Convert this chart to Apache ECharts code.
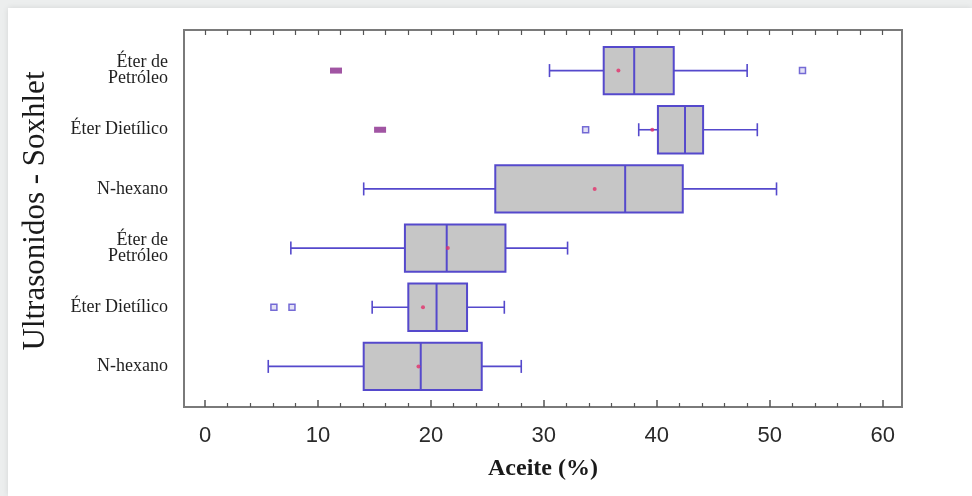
<!DOCTYPE html>
<html>
<head>
<meta charset="utf-8">
<script src="https://cdn.jsdelivr.net/npm/echarts@6/dist/echarts.min.js"></script>
<style>
  html, body { margin: 0; padding: 0; width: 972px; height: 496px; background: #eceeee; overflow: hidden; }
  #card { position: absolute; left: 8px; top: 8px; width: 964px; height: 488px; background: #ffffff; box-shadow: 0 0 6px rgba(0,0,0,0.10); }
  #chart { position: absolute; left: 0; top: 0; width: 972px; height: 496px; }
</style>
</head>
<body>
<div id="card"></div>
<div id="chart"></div>
<script>
// Categories, top to bottom
var categories = ['Éter de\nPetróleo', 'Éter Dietílico', 'N-hexano', 'Éter de\nPetróleo', 'Éter Dietílico', 'N-hexano'];
var categoryIds = ['0', '1', '2', '3', '4', '5'];

// Box statistics (Aceite %)
var whiskerLow  = [30.5, 38.4, 14.05, 7.6, 14.8, 5.6];
var q1          = [35.3, 40.1, 25.7, 17.7, 18.0, 14.05];
var median      = [38.0, 42.5, 37.2, 21.4, 20.5, 19.1];
var q3          = [41.5, 44.1, 42.3, 26.6, 23.2, 24.5];
var whiskerHigh = [48.0, 48.9, 50.6, 32.1, 26.5, 28.0];
var means       = [36.6, 39.6, 34.5, 21.5, 19.3, 18.9];

// Outliers: [value, row]
var outliers    = [[52.9, 0], [33.7, 1], [6.1, 4], [7.7, 4]];
var farOutliers = [[11.6, 0], [15.5, 1]];

// Axis ticks
var majorTicks = [0, 10, 20, 30, 40, 50, 60];
var minorTicks = [2, 4, 6, 8, 12, 14, 16, 18, 22, 24, 26, 28, 32, 34, 36, 38, 42, 44, 46, 48, 52, 54, 56, 58];
var topTicks = [0, 2, 4, 6, 8, 10, 12, 14, 16, 18, 20, 22, 24, 26, 28, 30, 32, 34, 36, 38, 40, 42, 44, 46, 48, 50, 52, 54, 56, 58, 60];

var X_MIN = -1.86, X_MAX = 61.71;
var BLUE = '#5549cc';
var FRAME = '#7a7a7a';

var boxData = categoryIds.map(function (id, i) {
  return [i, whiskerLow[i], q1[i], median[i], q3[i], whiskerHigh[i]];
});

var chart = echarts.init(document.getElementById('chart'), null, { renderer: 'canvas' });

chart.setOption({
  backgroundColor: 'transparent',
  animation: false,
  grid: [
    { left: 184, right: 70, top: 30, bottom: 89, show: true, borderColor: FRAME, borderWidth: 2, backgroundColor: 'transparent' },
    { left: 184, right: 70, top: 41, bottom: 100 }
  ],
  graphic: [{
    type: 'text',
    rotation: Math.PI / 2,
    x: 36, y: 211,
    style: {
      text: 'Ultrasonidos - Soxhlet',
      font: '31px "Liberation Serif"',
      fill: '#1a1a1a',
      align: 'center',
      verticalAlign: 'middle'
    }
  }],
  xAxis: [
    {
      gridIndex: 0, type: 'value', min: X_MIN, max: X_MAX, position: 'bottom',
      axisLine: { show: true, lineStyle: { color: FRAME, width: 2 } },
      axisTick: { show: true, inside: true, length: 7, customValues: majorTicks, lineStyle: { color: '#555', width: 1.5 } },
      axisLabel: { show: true, customValues: majorTicks, margin: 18, color: '#2a2a2a', fontFamily: 'Liberation Sans', fontSize: 22 },
      splitLine: { show: false },
      name: 'Aceite (%)', nameLocation: 'middle', nameGap: 50,
      nameTextStyle: { fontFamily: 'Liberation Serif', fontSize: 24, fontWeight: 'bold', color: '#1a1a1a' }
    },
    {
      gridIndex: 0, type: 'value', min: X_MIN, max: X_MAX, position: 'bottom',
      axisLine: { show: false },
      axisTick: { show: true, inside: true, length: 4, customValues: minorTicks, lineStyle: { color: '#555', width: 1.2 } },
      axisLabel: { show: false },
      splitLine: { show: false }
    },
    {
      gridIndex: 0, type: 'value', min: X_MIN, max: X_MAX, position: 'top',
      axisLine: { show: true, lineStyle: { color: FRAME, width: 2 } },
      axisTick: { show: true, inside: true, length: 5, customValues: topTicks, lineStyle: { color: '#555', width: 1.2 } },
      axisLabel: { show: false },
      splitLine: { show: false }
    },
    {
      gridIndex: 1, type: 'value', min: X_MIN, max: X_MAX, show: false,
      splitLine: { show: false }
    }
  ],
  yAxis: [
    {
      gridIndex: 0, type: 'value', min: 0, max: 1,
      axisLine: { show: false }, axisTick: { show: false }, axisLabel: { show: false }, splitLine: { show: false }
    },
    {
      gridIndex: 1, type: 'category', data: categoryIds, inverse: true,
      axisLine: { show: false }, axisTick: { show: false }, splitLine: { show: false },
      axisLabel: {
        margin: 16, color: '#1f1f1f', fontFamily: 'Liberation Serif', fontSize: 18, lineHeight: 16,
        formatter: function (v) { return categories[+v]; }
      }
    }
  ],
  series: [
    {
      type: 'custom',
      xAxisIndex: 3, yAxisIndex: 1,
      clip: false,
      data: boxData,
      encode: { y: 0, x: [1, 2, 3, 4, 5] },
      renderItem: function (params, api) {
        var row = api.value(0);
        var pLow = api.coord([api.value(1), row]);
        var pQ1 = api.coord([api.value(2), row]);
        var pMed = api.coord([api.value(3), row]);
        var pQ3 = api.coord([api.value(4), row]);
        var pHigh = api.coord([api.value(5), row]);
        var band = api.size([0, 1])[1];
        var h = band * 0.8;
        var cy = pMed[1];
        var cap = 6.5;
        var ls = { stroke: BLUE, lineWidth: 1.6 };
        return {
          type: 'group',
          children: [
            { type: 'line', shape: { x1: pLow[0], y1: cy, x2: pQ1[0], y2: cy }, style: ls },
            { type: 'line', shape: { x1: pQ3[0], y1: cy, x2: pHigh[0], y2: cy }, style: ls },
            { type: 'line', shape: { x1: pLow[0], y1: cy - cap, x2: pLow[0], y2: cy + cap }, style: ls },
            { type: 'line', shape: { x1: pHigh[0], y1: cy - cap, x2: pHigh[0], y2: cy + cap }, style: ls },
            { type: 'rect', shape: { x: pQ1[0], y: cy - h / 2, width: pQ3[0] - pQ1[0], height: h },
              style: { fill: '#c6c6c6', stroke: BLUE, lineWidth: 2 } },
            { type: 'line', shape: { x1: pMed[0], y1: cy - h / 2, x2: pMed[0], y2: cy + h / 2 },
              style: { stroke: BLUE, lineWidth: 2 } }
          ]
        };
      },
      z: 2
    },
    {
      type: 'scatter', xAxisIndex: 3, yAxisIndex: 1,
      data: means.map(function (m, i) { return [m, i]; }),
      symbol: 'circle', symbolSize: 4,
      itemStyle: { color: '#e2306a' },
      z: 5
    },
    {
      type: 'scatter', xAxisIndex: 3, yAxisIndex: 1,
      data: outliers,
      symbol: 'rect', symbolSize: [6, 6],
      itemStyle: { color: '#dcdaf2', borderColor: BLUE, borderWidth: 1.5 },
      z: 5
    },
    {
      type: 'scatter', xAxisIndex: 3, yAxisIndex: 1,
      data: farOutliers,
      symbol: 'rect', symbolSize: [12, 6],
      itemStyle: { color: '#8a2b8c' },
      z: 5
    }
  ]
});
</script>
</body>
</html>
